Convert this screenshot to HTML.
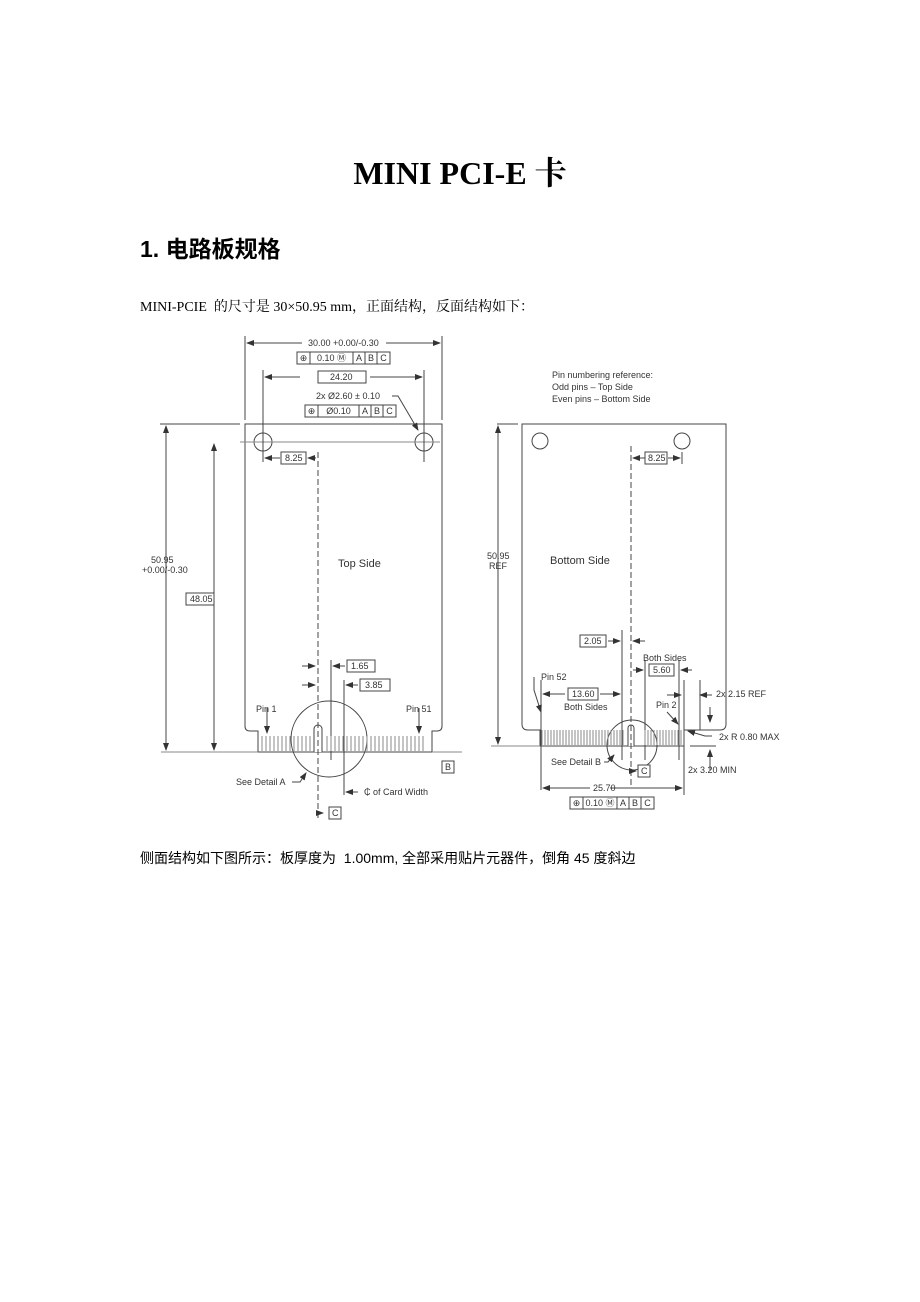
<!DOCTYPE html>
<html><head><meta charset="utf-8"><style>
body{margin:0;width:920px;height:1302px;background:#fff;position:relative;overflow:hidden}
.t{position:absolute;white-space:nowrap;color:#000}
svg{position:absolute;left:0;top:0}
svg text{font-family:"Liberation Sans",sans-serif;font-size:9px;fill:#333}
</style></head><body>
<div class="t" style="left:0;width:920px;text-align:center;top:148px;font:bold 32px 'Liberation Serif','Noto Serif CJK SC',serif">MINI PCI-E 卡</div>
<div class="t" style="left:140px;top:230px;font:bold 23px 'Liberation Sans','Noto Sans CJK SC',sans-serif">1. 电路板规格</div>
<div class="t" style="left:140px;top:296px;font:14px 'Liberation Serif','Noto Serif CJK SC',serif">MINI-PCIE &nbsp;的尺寸是 30×50.95 mm，正面结构，反面结构如下：</div>
<div class="t" style="left:140px;top:848px;font:14px 'Liberation Sans','Noto Sans CJK SC',sans-serif">侧面结构如下图所示：板厚度为 &nbsp;1.00mm, 全部采用贴片元器件，倒角 45 度斜边</div>
<svg width="920" height="1302" viewBox="0 0 920 1302">
<defs><marker id="a" markerWidth="8" markerHeight="6" refX="7" refY="3" orient="auto"><path d="M0,0L8,3L0,6z" fill="#333"/></marker></defs>
<g stroke="#444" fill="none" stroke-width="1">
<path d="M245,424H442V726Q442,731 437,731H432V752H258V731H250Q245,731 245,726Z"/>
<circle cx="263" cy="442" r="9"/><circle cx="424" cy="442" r="9"/>
<line x1="240" y1="442" x2="440" y2="442" stroke="#888"/>
<path d="M314,752V729a4,4 0 0 1 8,0V752" fill="#fff"/>
<circle cx="329" cy="739" r="38"/>
<line x1="245" y1="336" x2="245" y2="420"/><line x1="442" y1="336" x2="442" y2="420"/>
<line x1="263" y1="370" x2="263" y2="462"/><line x1="424" y1="370" x2="424" y2="462"/>
<line x1="302" y1="343" x2="247" y2="343" marker-end="url(#a)"/>
<line x1="386" y1="343" x2="440" y2="343" marker-end="url(#a)"/>
<line x1="300" y1="377" x2="265" y2="377" marker-end="url(#a)"/><line x1="370" y1="377" x2="422" y2="377" marker-end="url(#a)"/>
<path d="M392,396H398L418,430" marker-end="url(#a)"/>
<line x1="280" y1="458" x2="265" y2="458" marker-end="url(#a)"/><line x1="308" y1="458" x2="316" y2="458" marker-end="url(#a)" transform="rotate(180 312 458)"/>
<line x1="318" y1="452" x2="318" y2="820" stroke-dasharray="6,3"/>
<line x1="331" y1="660" x2="331" y2="760"/><line x1="344" y1="680" x2="344" y2="795"/>
<line x1="302" y1="666" x2="315" y2="666" marker-end="url(#a)"/><line x1="302" y1="685" x2="315" y2="685" marker-end="url(#a)"/>
<line x1="345" y1="666" x2="333" y2="666" marker-end="url(#a)"/><line x1="358" y1="685" x2="346" y2="685" marker-end="url(#a)"/>
<line x1="358" y1="792" x2="346" y2="792" marker-end="url(#a)"/>
<line x1="161" y1="752" x2="258" y2="752" stroke="#888"/><line x1="432" y1="752" x2="462" y2="752" stroke="#888"/>
<line x1="160" y1="424" x2="240" y2="424"/>
<line x1="166" y1="430" x2="166" y2="750" marker-end="url(#a)"/><line x1="166" y1="540" x2="166" y2="426" marker-end="url(#a)"/>
<line x1="214" y1="600" x2="214" y2="750" marker-end="url(#a)"/><line x1="214" y1="600" x2="214" y2="444" marker-end="url(#a)"/>
<line x1="267" y1="708" x2="267" y2="733" marker-end="url(#a)"/><line x1="419" y1="708" x2="419" y2="733" marker-end="url(#a)"/>
<path d="M292,782H300L306,773" marker-end="url(#a)"/>
<line x1="318" y1="813" x2="323" y2="813" marker-end="url(#a)"/>
<path d="M522,424H726V724Q726,730 720,730H684V746H540V730H528Q522,730 522,724Z"/>
<circle cx="540" cy="441" r="8"/><circle cx="682" cy="441" r="8"/>
<path d="M628,746V728a3,3 0 0 1 6,0V746" fill="#fff"/>
<circle cx="632" cy="745" r="25"/>
<line x1="631" y1="446" x2="631" y2="785" stroke-dasharray="6,3"/>
<line x1="682" y1="452" x2="682" y2="464"/>
<line x1="650" y1="458" x2="633" y2="458" marker-end="url(#a)"/><line x1="668" y1="458" x2="680" y2="458" marker-end="url(#a)"/>
<line x1="497" y1="424" x2="518" y2="424"/><line x1="491" y1="746" x2="540" y2="746" stroke="#888"/>
<line x1="498" y1="545" x2="498" y2="744" marker-end="url(#a)"/><line x1="498" y1="545" x2="498" y2="426" marker-end="url(#a)"/>
<line x1="541" y1="680" x2="541" y2="790"/><line x1="622" y1="630" x2="622" y2="760"/>
<line x1="645" y1="660" x2="645" y2="760"/><line x1="679" y1="660" x2="679" y2="760"/><line x1="684" y1="680" x2="684" y2="795"/>
<line x1="608" y1="641" x2="620" y2="641" marker-end="url(#a)"/><line x1="645" y1="641" x2="633" y2="641" marker-end="url(#a)"/>
<line x1="565" y1="694" x2="543" y2="694" marker-end="url(#a)"/><line x1="600" y1="694" x2="620" y2="694" marker-end="url(#a)"/>
<line x1="633" y1="670" x2="643" y2="670" marker-end="url(#a)"/><line x1="692" y1="670" x2="681" y2="670" marker-end="url(#a)"/>
<line x1="667" y1="695" x2="681" y2="695" marker-end="url(#a)"/><line x1="712" y1="695" x2="700" y2="695" marker-end="url(#a)"/>
<line x1="700" y1="680" x2="700" y2="730"/>
<path d="M534,677V690L541,712" marker-end="url(#a)"/>
<path d="M667,712L678,724" marker-end="url(#a)"/>
<path d="M712,736H705L688,731" marker-end="url(#a)"/>
<line x1="710" y1="707" x2="710" y2="722" marker-end="url(#a)"/><line x1="710" y1="770" x2="710" y2="750" marker-end="url(#a)"/>
<line x1="690" y1="730" x2="716" y2="730"/><line x1="690" y1="746" x2="716" y2="746"/>
<path d="M604,762H608L614,755" marker-end="url(#a)"/>
<line x1="590" y1="788" x2="543" y2="788" marker-end="url(#a)"/><line x1="610" y1="788" x2="682" y2="788" marker-end="url(#a)"/>
<line x1="631" y1="771" x2="636" y2="771" marker-end="url(#a)"/>
</g>
<g stroke="#888" stroke-width="1">
<path d="M262,736V751M266,736V751M270,736V751M274,736V751M278,736V751M282,736V751M286,736V751M290,736V751M294,736V751M298,736V751M302,736V751M306,736V751M310,736V751"/>
<path d="M327,736V751M331,736V751M335,736V751M339,736V751M343,736V751M347,736V751M351,736V751M355,736V751M359,736V751M363,736V751M367,736V751M371,736V751M375,736V751M379,736V751M383,736V751M387,736V751M391,736V751M395,736V751M399,736V751M403,736V751M407,736V751M411,736V751M415,736V751M419,736V751M423,736V751"/>
<path d="M542,730V745M545,730V745M548,730V745M551,730V745M554,730V745M557,730V745M560,730V745M563,730V745M566,730V745M569,730V745M572,730V745M575,730V745M578,730V745M581,730V745M584,730V745M587,730V745M590,730V745M593,730V745M596,730V745M599,730V745M602,730V745M605,730V745M608,730V745M611,730V745M614,730V745M617,730V745M620,730V745M623,730V745"/>
<path d="M645,730V745M648,730V745M651,730V745M654,730V745M657,730V745M660,730V745M663,730V745M666,730V745M669,730V745M672,730V745M675,730V745M678,730V745M681,730V745"/>
</g>
<g stroke="#444" fill="#fff">
<rect x="297" y="352" width="93" height="12"/><rect x="318" y="371" width="48" height="12"/>
<rect x="305" y="405" width="91" height="12"/><rect x="281" y="452" width="25" height="12"/>
<rect x="186" y="593" width="28" height="12"/>
<rect x="347" y="660" width="28" height="12"/><rect x="360" y="679" width="30" height="12"/>
<rect x="442" y="761" width="12" height="12"/><rect x="329" y="807" width="12" height="12"/>
<rect x="580" y="635" width="26" height="12"/><rect x="649" y="664" width="25" height="12"/>
<rect x="568" y="688" width="30" height="12"/><rect x="645" y="452" width="22" height="12"/>
<rect x="638" y="765" width="12" height="12"/><rect x="570" y="797" width="84" height="12"/>
</g>
<g stroke="#444"><line x1="310" y1="352" x2="310" y2="364"/><line x1="353" y1="352" x2="353" y2="364"/><line x1="365" y1="352" x2="365" y2="364"/><line x1="377" y1="352" x2="377" y2="364"/>
<line x1="318" y1="405" x2="318" y2="417"/><line x1="359" y1="405" x2="359" y2="417"/><line x1="371" y1="405" x2="371" y2="417"/><line x1="383" y1="405" x2="383" y2="417"/>
<line x1="583" y1="797" x2="583" y2="809"/><line x1="617" y1="797" x2="617" y2="809"/><line x1="629" y1="797" x2="629" y2="809"/><line x1="641" y1="797" x2="641" y2="809"/></g>
<g text-anchor="middle">
<text x="303.5" y="361">⊕</text><text x="331.5" y="361">0.10 Ⓜ</text><text x="359" y="361">A</text><text x="371" y="361">B</text><text x="383.5" y="361">C</text>
<text x="311.5" y="414">⊕</text><text x="338.5" y="414">Ø0.10</text><text x="365" y="414">A</text><text x="377" y="414">B</text><text x="389.5" y="414">C</text>
<text x="576.5" y="806">⊕</text><text x="600" y="806">0.10 Ⓜ</text><text x="623" y="806">A</text><text x="635" y="806">B</text><text x="647.5" y="806">C</text>
</g>
<text x="308" y="346">30.00 +0.00/-0.30</text>
<text x="330" y="380">24.20</text>
<text x="316" y="399">2x Ø2.60 ± 0.10</text>
<text x="285" y="461">8.25</text>
<text x="151" y="563">50.95</text><text x="142" y="573">+0.00/-0.30</text>
<text x="190" y="602">48.05</text><text x="338" y="567" style="font-size:11px">Top Side</text>
<text x="351" y="669">1.65</text><text x="365" y="688">3.85</text>
<text x="256" y="712">Pin 1</text><text x="406" y="712">Pin 51</text>
<text x="236" y="785">See Detail A</text><text x="364" y="795">₵ of Card Width</text>
<text x="445" y="770">B</text><text x="332" y="816">C</text>
<text x="552" y="378">Pin numbering reference:</text><text x="552" y="390">Odd pins – Top Side</text><text x="552" y="402">Even pins  – Bottom Side</text>
<text x="648" y="461">8.25</text>
<text x="487" y="559">50.95</text><text x="489" y="569">REF</text>
<text x="550" y="564" style="font-size:11px">Bottom Side</text>
<text x="584" y="644">2.05</text><text x="643" y="661">Both Sides</text><text x="653" y="673">5.60</text>
<text x="541" y="680">Pin 52</text><text x="572" y="697">13.60</text><text x="564" y="710">Both Sides</text>
<text x="656" y="708">Pin 2</text><text x="716" y="697">2x 2.15 REF</text><text x="719" y="740">2x R 0.80 MAX</text>
<text x="551" y="765">See Detail B</text><text x="641" y="774">C</text><text x="688" y="773">2x 3.20 MIN</text>
<text x="593" y="791">25.70</text>
</svg>
</body></html>
